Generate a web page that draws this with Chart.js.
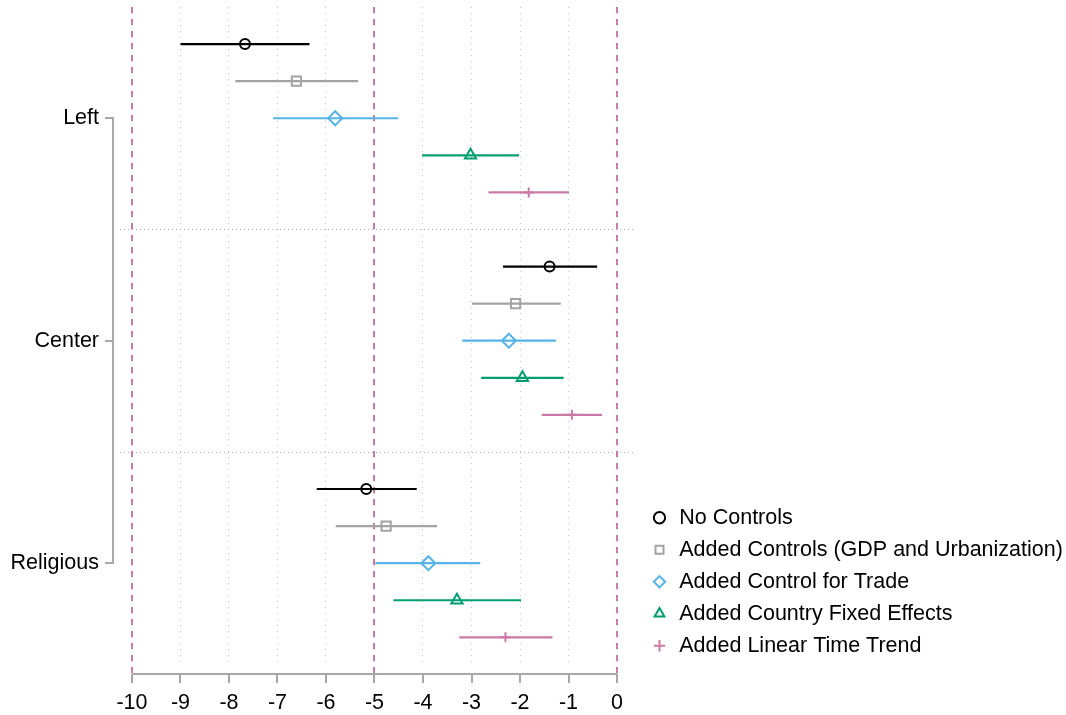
<!DOCTYPE html>
<html>
<head>
<meta charset="utf-8">
<script src="https://cdn.jsdelivr.net/npm/chart.js@4/dist/chart.umd.min.js"></script>
<style>
  html, body { margin: 0; padding: 0; background: #fff; }
  #wrap { width: 1066px; height: 715px; position: relative; }
</style>
</head>
<body>
<div id="wrap"><canvas id="chart"></canvas></div>
<script>
// ---------------------------------------------------------
// DATA (point estimates and confidence bounds, per group)
// ---------------------------------------------------------
const groups = ["Left", "Center", "Religious"];
const seriesNames = [
  "No Controls",
  "Added Controls (GDP and Urbanization)",
  "Added Control for Trade",
  "Added Country Fixed Effects",
  "Added Linear Time Trend"
];

const noControlsEst = [-7.67, -1.39, -5.17];
const noControlsLo  = [-9.00, -2.35, -6.19];
const noControlsHi  = [-6.34, -0.41, -4.13];

const addedControlsEst = [-6.61, -2.09, -4.76];
const addedControlsLo  = [-7.87, -2.99, -5.80];
const addedControlsHi  = [-5.34, -1.16, -3.71];

const tradeEst = [-5.81, -2.23, -3.89];
const tradeLo  = [-7.09, -3.19, -4.98];
const tradeHi  = [-4.51, -1.26, -2.82];

const fixedEffectsEst = [-3.02, -1.95, -3.30];
const fixedEffectsLo  = [-4.02, -2.80, -4.61];
const fixedEffectsHi  = [-2.02, -1.10, -1.98];

const timeTrendEst = [-1.82, -0.93, -2.30];
const timeTrendLo  = [-2.65, -1.55, -3.25];
const timeTrendHi  = [-0.99, -0.31, -1.33];

const xTicks = [-10, -9, -8, -7, -6, -5, -4, -3, -2, -1, 0];
const refLines = [-10, -5, 0];

// ---------------------------------------------------------
// STYLE
// ---------------------------------------------------------
const FONT = "'Liberation Sans', Arial, Helvetica, sans-serif";
const FONT_SIZE = 21.5;
const colors = ["#000000", "#a3a3a3", "#56b4e9", "#009e73", "#cc79a7"];
const markers = ["circle", "rect", "rectRot", "triangle", "cross"];
const markerRadius = [5, 6.5, 7, 6.5, 5];
const AXIS_GREY = "#a8a8a8";

// row layout: each group takes 5 rows, separated by a blank row
const rowOf = (g, s) => 1 + g * 6 + s;
const groupRow = g => 3 + g * 6;

const allSeries = [
  [noControlsEst, noControlsLo, noControlsHi],
  [addedControlsEst, addedControlsLo, addedControlsHi],
  [tradeEst, tradeLo, tradeHi],
  [fixedEffectsEst, fixedEffectsLo, fixedEffectsHi],
  [timeTrendEst, timeTrendLo, timeTrendHi]
];

const datasets = [];

// confidence interval lines (one dataset per series, gaps between groups)
allSeries.forEach(([est, lo, hi], s) => {
  const pts = [];
  groups.forEach((_, g) => {
    pts.push({ x: lo[g], y: rowOf(g, s) });
    pts.push({ x: hi[g], y: rowOf(g, s) });
    pts.push({ x: null, y: null });
  });
  datasets.push({
    type: "line",
    label: "ci" + s,
    data: pts,
    borderColor: colors[s],
    borderWidth: 2.2,
    pointRadius: 0,
    spanGaps: false,
    fill: false
  });
});

// point estimates
allSeries.forEach(([est], s) => {
  datasets.push({
    type: "scatter",
    label: seriesNames[s],
    data: groups.map((_, g) => ({ x: est[g], y: rowOf(g, s) })),
    pointStyle: markers[s],
    pointRadius: markerRadius[s],
    pointHoverRadius: markerRadius[s],
    pointBorderColor: colors[s],
    pointBackgroundColor: "rgba(0,0,0,0)",
    borderColor: colors[s],
    backgroundColor: "rgba(0,0,0,0)",
    pointBorderWidth: 2,
    borderWidth: 2
  });
});

// ---------------------------------------------------------
// PLUGIN: reference lines, separators, custom axis lines
// ---------------------------------------------------------
const decorPlugin = {
  id: "decor",
  beforeDatasetsDraw(chart) {
    const { ctx, chartArea, scales: { x, y } } = chart;
    const axisY = chartArea.bottom + 7;
    ctx.save();

    // dotted separators between groups
    ctx.strokeStyle = "#b0b0b0";
    ctx.lineWidth = 1;
    ctx.setLineDash([1, 3]);
    [6, 12].forEach(r => {
      const py = Math.round(y.getPixelForValue(r)) + 0.5;
      ctx.beginPath();
      ctx.moveTo(chartArea.left, py);
      ctx.lineTo(x.getPixelForValue(0.33), py);
      ctx.stroke();
    });

    // dashed reference lines
    ctx.strokeStyle = "#cc79a7";
    ctx.lineWidth = 2;
    ctx.setLineDash([6, 6]);
    refLines.forEach(v => {
      const px = Math.round(x.getPixelForValue(v));
      ctx.beginPath();
      ctx.moveTo(px, chartArea.top);
      ctx.lineTo(px, axisY);
      ctx.stroke();
    });
    ctx.restore();
  },
  afterDraw(chart) {
    const { ctx, chartArea, scales: { x, y } } = chart;
    const axisY = chartArea.bottom + 7;
    ctx.save();
    ctx.strokeStyle = AXIS_GREY;
    ctx.lineWidth = 2;
    ctx.setLineDash([]);

    // x axis line + ticks
    ctx.beginPath();
    ctx.moveTo(x.getPixelForValue(xTicks[0]), axisY);
    ctx.lineTo(x.getPixelForValue(xTicks[xTicks.length - 1]), axisY);
    xTicks.forEach(v => {
      const px = Math.round(x.getPixelForValue(v));
      ctx.moveTo(px, axisY);
      ctx.lineTo(px, axisY + 9);
    });
    ctx.stroke();

    // y axis bracket + ticks
    const ax = chartArea.left - 7;
    ctx.beginPath();
    ctx.moveTo(ax, y.getPixelForValue(groupRow(0)));
    ctx.lineTo(ax, y.getPixelForValue(groupRow(groups.length - 1)));
    groups.forEach((_, g) => {
      const py = Math.round(y.getPixelForValue(groupRow(g)));
      ctx.moveTo(ax - 8, py);
      ctx.lineTo(ax + 1, py);
    });
    ctx.stroke();
    ctx.restore();
  }
};

// ---------------------------------------------------------
// CHART
// ---------------------------------------------------------
Chart.defaults.font.family = FONT;
Chart.defaults.color = "#000";

new Chart(document.getElementById("chart"), {
  type: "scatter",
  data: { datasets },
  options: {
    responsive: true,
    maintainAspectRatio: false,
    animation: false,
    layout: { autoPadding: false, padding: { left: 11, right: 0, top: 7, bottom: 0 } },
    scales: {
      x: {
        type: "linear",
        min: -10.247,
        max: 0.474,
        afterBuildTicks: scale => {
          scale.ticks = xTicks.map(v => ({ value: v }));
        },
        afterFit: scale => {
          scale.height = 48;
          scale.paddingLeft = 0;
          scale.paddingRight = 0;
        },
        ticks: {
          font: { size: FONT_SIZE },
          color: "#000",
          padding: 23,
          maxRotation: 0,
          callback: v => String(v)
        },
        grid: {
          color: "#c4c4c4",
          lineWidth: 1,
          drawTicks: false
        },
        border: { display: false, dash: [1, 5] }
      },
      y: {
        type: "linear",
        reverse: true,
        min: 0,
        max: 17.8,
        afterBuildTicks: scale => {
          scale.ticks = groups.map((_, g) => ({ value: groupRow(g) }));
        },
        afterFit: scale => {
          scale.width = 109;
          scale.paddingTop = 0;
          scale.paddingBottom = 0;
        },
        ticks: {
          font: { size: FONT_SIZE },
          color: "#000",
          padding: 21,
          callback: v => groups[(v - 3) / 6]
        },
        grid: { display: false, drawTicks: false },
        border: { display: false }
      }
    },
    plugins: {
      tooltip: { enabled: false },
      legend: {
        position: "right",
        align: "end",
        fullSize: false,
        maxWidth: 426,
        labels: {
          filter: item => !item.text.startsWith("ci"),
          usePointStyle: true,
          boxWidth: 18,
          boxHeight: 8,
          padding: 10.5,
          color: "#000",
          font: { size: FONT_SIZE }
        }
      }
    }
  },
  plugins: [decorPlugin]
});
</script>
</body>
</html>
